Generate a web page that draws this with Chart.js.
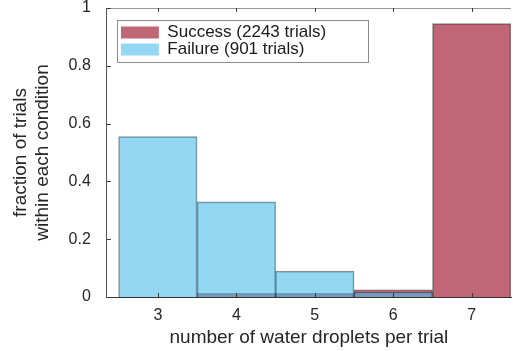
<!DOCTYPE html>
<html>
<head>
<meta charset="utf-8">
<script src="https://cdn.jsdelivr.net/npm/chart.js@4/dist/chart.umd.min.js"></script>
<style>
  html, body { margin: 0; padding: 0; background: #fff; }
  #wrap { width: 513px; height: 351px; }
</style>
</head>
<body>
<div id="wrap"><canvas id="chart"></canvas></div>
<script>
const droplets = [3, 4, 5, 6, 7];
const successFrac = [0, 0.013, 0.013, 0.025, 0.946];
const failureFrac = [0.555, 0.329, 0.089, 0.017, 0];
const yTicks = [0, 0.2, 0.4, 0.6, 0.8, 1];
const seriesNames = ["Success (2243 trials)", "Failure (901 trials)"];

const FONT = "'Liberation Sans', Arial, sans-serif";
const TEXT = "#262626";

function toPoints(values) {
  // zero-height bins are not drawn
  return droplets.map((d, i) => ({ x: d, y: values[i] > 0 ? values[i] : null }));
}

// moves the legend inside the plot, like the matlab box
const legendShift = {
  id: "legendShift",
  afterLayout(chart) {
    const lg = chart.legend;
    if (!lg) return;
    lg.left = chart.chartArea.left + 14;
    lg.top = chart.chartArea.top + 16;
  }
};

// top border, inward ticks and the legend frame
const frame = {
  id: "frame",
  afterDatasetsDraw(chart) {
    const { ctx, chartArea: a, scales } = chart;
    ctx.save();
    ctx.lineWidth = 1;
    ctx.strokeStyle = "#9a9a9a";
    ctx.beginPath();
    ctx.moveTo(a.left, Math.round(a.top) + 0.5);
    ctx.lineTo(a.right, Math.round(a.top) + 0.5);
    ctx.stroke();

    ctx.strokeStyle = "#3a3a3a";
    ctx.beginPath();
    scales.x.ticks.forEach(t => {
      const px = Math.round(scales.x.getPixelForValue(t.value)) + 0.5;
      ctx.moveTo(px, a.bottom);
      ctx.lineTo(px, a.bottom - 4);
      ctx.moveTo(px, a.top);
      ctx.lineTo(px, a.top + 4);
    });
    scales.y.ticks.forEach(t => {
      const py = Math.round(scales.y.getPixelForValue(t.value)) + 0.5;
      ctx.moveTo(a.left, py);
      ctx.lineTo(a.left + 4, py);
    });
    ctx.stroke();
    ctx.restore();
  },
  afterDraw(chart) {
    const lg = chart.legend;
    if (!lg) return;
    const { ctx } = chart;
    const opts = lg.options.labels;
    ctx.save();
    ctx.font = opts.font.size + "px " + FONT;
    const textW = Math.max(...seriesNames.map(s => ctx.measureText(s).width));
    const x0 = Math.round(lg.left - 3.5) + 0.5;
    const y0 = Math.round(lg.top - 4.5) + 0.5;
    const w = 3.5 + opts.boxWidth + opts.font.size / 2 + textW + 42;
    const h = 4.5 + 2 * opts.font.size + 3.5;
    ctx.strokeStyle = "#8c8c8c";
    ctx.lineWidth = 1;
    ctx.strokeRect(x0, y0, Math.round(w), Math.round(h));
    ctx.restore();
  }
};

new Chart(document.getElementById("chart"), {
  type: "bar",
  data: {
    datasets: [
      {
        label: seriesNames[0],
        data: toPoints(successFrac),
        backgroundColor: "rgba(160, 20, 45, 0.65)",
        borderColor: "rgba(40, 30, 35, 0.55)",
        borderWidth: 1,
        order: 1
      },
      {
        label: seriesNames[1],
        data: toPoints(failureFrac),
        backgroundColor: "rgba(75, 188, 235, 0.6)",
        borderColor: "rgba(30, 45, 55, 0.55)",
        borderWidth: 1,
        order: 0
      }
    ]
  },
  options: {
    responsive: true,
    maintainAspectRatio: false,
    animation: false,
    grouped: false,
    barPercentage: 1,
    categoryPercentage: 1,
    layout: { padding: { left: 8, right: 2, top: 8, bottom: 2 } },
    scales: {
      x: {
        type: "linear",
        offset: false,
        min: 2.35,
        max: 7.5,
        afterBuildTicks: scale => {
          scale.ticks = droplets.map(v => ({ value: v }));
        },
        ticks: {
          color: TEXT,
          font: { family: FONT, size: 16 },
          padding: 9
        },
        grid: { display: false, drawTicks: false },
        border: { display: true, color: "#333", width: 1 },
        title: {
          display: true,
          text: "number of water droplets per trial",
          color: TEXT,
          font: { family: FONT, size: 19 },
          padding: { top: -8, bottom: 0 }
        }
      },
      y: {
        min: 0,
        max: 1,
        afterBuildTicks: scale => {
          scale.ticks = yTicks.map(v => ({ value: v }));
        },
        afterFit: scale => {
          scale.paddingTop = 0;
          scale.paddingBottom = 0;
        },
        ticks: {
          color: TEXT,
          font: { family: FONT, size: 16 },
          padding: 16,
          callback: v => String(v)
        },
        grid: { display: false, drawTicks: false },
        border: { display: true, color: "#555", width: 1 },
        title: {
          display: true,
          text: ["fraction of trials", "within each condition"],
          color: TEXT,
          font: { family: FONT, size: 19 },
          padding: { top: 1, bottom: -2 }
        }
      }
    },
    plugins: {
      legend: {
        position: "chartArea",
        align: "start",
        labels: {
          color: "#1a1a1a",
          font: { family: FONT, size: 17 },
          boxWidth: 38,
          boxHeight: 12,
          padding: 0,
          sort: (a, b) => a.datasetIndex - b.datasetIndex,
          generateLabels: chart => {
            const items = Chart.defaults.plugins.legend.labels.generateLabels(chart);
            items.forEach(it => { it.lineWidth = 0; });
            return items;
          }
        }
      },
      tooltip: { enabled: false }
    }
  },
  plugins: [legendShift, frame]
});
</script>
</body>
</html>
